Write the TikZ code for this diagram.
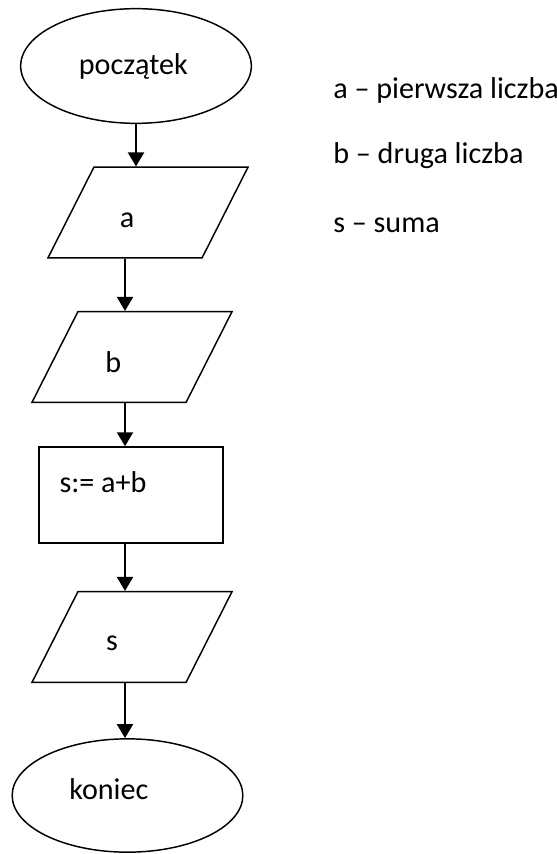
\documentclass[tikz,border=0pt]{standalone}
\usepackage{fontspec}
\setmainfont{Carlito}
\usetikzlibrary{shapes.geometric,arrows.meta}

\begin{document}
\begin{tikzpicture}[x=0.75pt,y=-0.75pt,font=\fontsize{22.6}{27}\selectfont,
    >={Triangle[width=12pt,length=10.5pt]}]
  \tikzstyle{term}=[ellipse,draw,line width=1.1pt,minimum width=173pt,minimum height=86pt,inner sep=0pt]
  \tikzstyle{io}=[trapezium,trapezium left angle=67,trapezium right angle=113,trapezium stretches=true,draw,line width=1.1pt,minimum width=150pt,minimum height=68pt,inner sep=2pt]
  \tikzstyle{proc}=[rectangle,draw,line width=1.1pt,minimum width=138pt,minimum height=72pt,inner sep=0pt]
  \tikzstyle{flow}=[->,line width=1.6pt]
  \tikzstyle{legend}=[anchor=base west,inner sep=0pt]

  \useasboundingbox (0,0) rectangle (557,854);

  % start i koniec
  \node[term] (start) at (136,66) {\hspace*{-4pt}początek};
  \node[term,minimum height=85pt,label={[xshift=-14pt,yshift=4.5pt]center:koniec}] (stop) at (127.5,795.5) {};

  % wejscie / wyjscie
  \node[io,label={[xshift=-15.75pt,yshift=-6pt]center:a}] (a) at (148,212.5) {};
  \node[io,label={[xshift=-14pt,yshift=-3.5pt]center:b}] (b) at (132,357) {};
  \node[io,label={[xshift=-15pt,yshift=-5pt]center:s}] (s) at (132,637) {};

  % obliczenia
  \node[proc,label={[anchor=north west,inner sep=0pt,xshift=15.75pt,yshift=-18.75pt]north west:{s:= a+b}}] (sum) at (131,495) {};

  % opis zmiennych
  \node[legend] (la) at (333,98) {a – pierwsza liczba};
  \node[legend] (lb) at (333,163) {b – druga liczba};
  \node[legend] (ls) at (333,232) {s – suma};

  % strzalki
  \coordinate (axis) at (125,0);
  \draw[flow] (start.south) -- (start.south |- a.north);
  \draw[flow] (a.south -| axis) -- (b.north -| axis);
  \draw[flow] (b.south -| axis) -- (sum.north -| axis);
  \draw[flow] (sum.south -| axis) -- (s.north -| axis);
  \draw[flow] (s.south -| axis) -- (stop.north -| axis);
\end{tikzpicture}
\end{document}
